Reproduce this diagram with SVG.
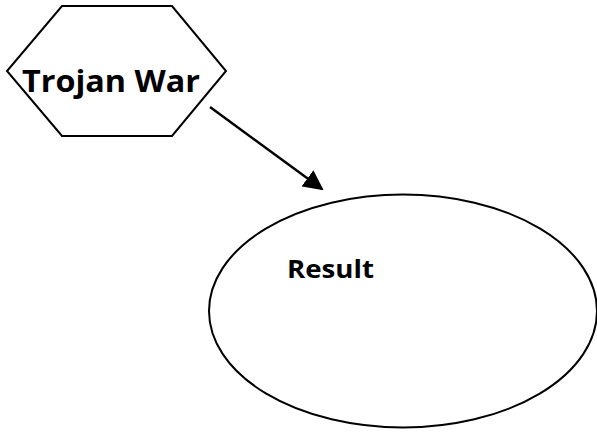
<svg xmlns="http://www.w3.org/2000/svg" width="597" height="434" viewBox="0 0 597 434">
<defs>
<style>
.shape{fill:#fff;stroke:#000;stroke-width:2}
.lbl{font-family:"Open Sans","Liberation Sans",sans-serif;font-weight:bold;fill:#000}
.edge{stroke:#000;stroke-width:2.5;fill:none}
</style>
<marker id="arr" viewBox="0 0 10 10" refX="9" refY="5" markerWidth="8" markerHeight="8" markerUnits="strokeWidth" orient="auto">
<path d="M0,0 L10,5 L0,10 z" fill="#000"/>
</marker>
</defs>
<rect width="597" height="434" fill="#fff"/>
<g id="connectors">
<line class="edge" x1="210" y1="107" x2="322" y2="189" marker-end="url(#arr)"/>
</g>
<g id="node-trojan-war">
<polygon class="shape" points="62,6 172,6 226,71 172,136 62,136 7,71"/>
<text class="lbl" x="22" y="92" font-size="31" textLength="178" lengthAdjust="spacingAndGlyphs">Trojan War</text>
</g>
<g id="node-result">
<ellipse class="shape" cx="403" cy="311" rx="194" ry="116.5"/>
<text class="lbl" x="287" y="278" font-size="25.5" textLength="87" lengthAdjust="spacingAndGlyphs">Result</text>
</g>
</svg>
